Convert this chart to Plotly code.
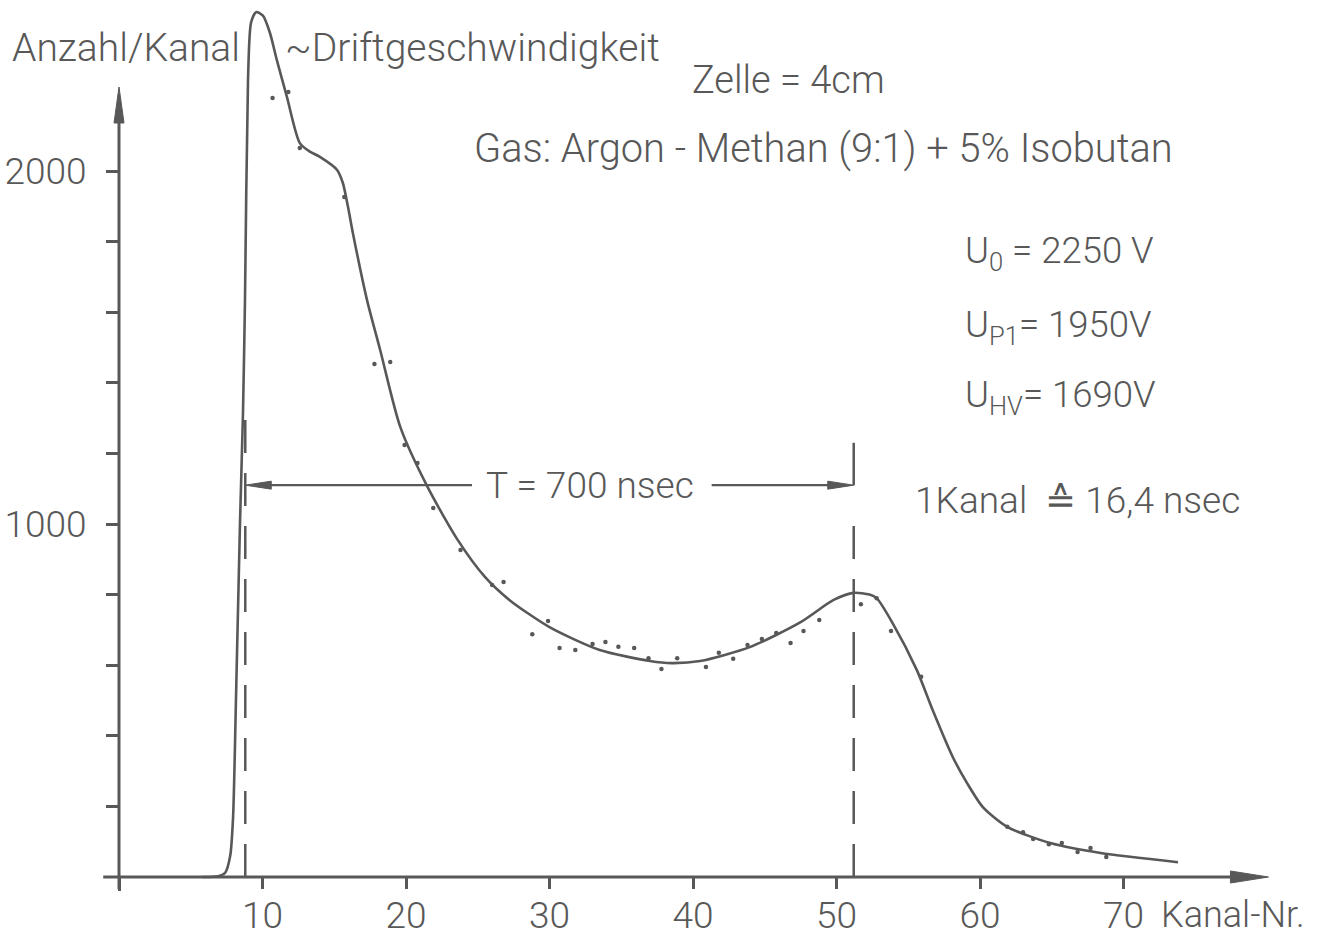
import plotly.graph_objects as go

# ---- canvas geometry -------------------------------------------------------
W, H = 1325, 942
X0_PX, Y0_PX = 119, 877        # pixel position of the origin (channel 0, count 0)
PX_PER_CH = 14.35              # horizontal pixels per channel
PX_PER_COUNT = 0.353           # vertical pixels per count

INK = "#585858"
FONT = "Roboto, Liberation Sans, Arial, sans-serif"

# ---- data ------------------------------------------------------------------
# fitted drift-time spectrum: channel number vs. counts per channel
curve_channel = [5.8, 6.9, 7.4, 7.75, 7.95, 8.15, 8.43, 8.64, 8.78, 8.99, 9.2, 9.55,
                 10.03, 10.52, 11.0, 11.7, 12.6, 13.3, 14.0, 15.2, 15.6, 15.96, 16.3,
                 17.28, 18.2, 19.6, 21.5, 23.6, 25.5, 27.2, 30.0, 33.5, 37.0, 38.5,
                 40.5, 44.0, 47.5, 49.8, 51.2, 52.3, 52.8, 53.9, 55.6, 56.7, 58.1,
                 59.1, 60.2, 61.9, 64.9, 68.4, 73.8]
curve_counts = [0, 2, 12, 60, 170, 500, 1000, 1314, 1635, 2258, 2420, 2450,
                2440, 2391, 2314, 2210, 2079, 2055, 2040, 2003, 1966, 1898, 1824,
                1635, 1493, 1275, 1105, 955, 850, 785, 708, 643, 612, 606,
                612, 652, 722, 785, 805, 800, 790, 720, 586, 473, 340,
                266, 198, 142, 96, 68, 42]

# measured counts per channel
meas_channel = [10.7, 11.8, 12.6, 15.7, 17.8, 18.9, 19.9, 20.8, 21.9, 23.8,
                26.0, 26.8, 28.8, 29.9, 30.7, 31.8, 33.0, 33.9, 34.8, 35.9,
                36.9, 37.8, 38.9, 40.9, 41.8, 42.8, 43.8, 44.8, 45.8, 46.8,
                47.7, 48.8, 51.7, 52.8, 53.8, 55.9, 61.9, 63.0, 63.7, 64.8,
                65.7, 66.8, 67.7, 68.8]
meas_counts = [2207, 2224, 2065, 1926, 1453, 1459, 1224, 1173, 1045, 926,
               827, 836, 688, 725, 649, 643, 660, 666, 652, 649,
               620, 589, 620, 595, 635, 618, 657, 674, 691, 663,
               697, 728, 773, 790, 697, 567, 142, 127, 108, 93,
               96, 71, 82, 57]

x_ticks = [10, 20, 30, 40, 50, 60, 70]
x_minor_ticks = [0]
y_ticks = [1000, 2000]
y_minor_ticks = [200, 400, 600, 800, 1200, 1400, 1600, 1800]

# drift time span: leading edge to far-side peak
T_START, T_END, T_LEVEL = 8.8, 51.2, 1110

# extent of the hand-drawn axes
X_AXIS_START, X_AXIS_END = -1.1, 80.1
Y_AXIS_START, Y_AXIS_END = -35, 2238

x_range = [-X0_PX / PX_PER_CH, (W - X0_PX) / PX_PER_CH]
y_range = [-(H - Y0_PX) / PX_PER_COUNT, Y0_PX / PX_PER_COUNT]


def arrowhead(tip_x, tip_y, direction, length_px, half_width_px):
    """Filled dart-shaped arrowhead, sized in pixels, placed in data units."""
    lx = length_px / PX_PER_CH
    ly = length_px / PX_PER_COUNT
    wx = half_width_px / PX_PER_CH
    wy = half_width_px / PX_PER_COUNT
    if direction == "right":
        xs = [tip_x, tip_x - lx, tip_x - lx, tip_x]
        ys = [tip_y, tip_y + wy, tip_y - wy, tip_y]
    elif direction == "left":
        xs = [tip_x, tip_x + lx, tip_x + lx, tip_x]
        ys = [tip_y, tip_y + wy, tip_y - wy, tip_y]
    else:  # up
        xs = [tip_x, tip_x - wx, tip_x + wx, tip_x]
        ys = [tip_y, tip_y - ly, tip_y - ly, tip_y]
    return go.Scatter(x=xs, y=ys, mode="lines", fill="toself", fillcolor=INK,
                      line=dict(color=INK, width=1), hoverinfo="skip",
                      showlegend=False)


fig = go.Figure()

# axes drawn as lines with arrowheads
fig.add_trace(go.Scatter(x=[X_AXIS_START, X_AXIS_END - 1.5], y=[0, 0], mode="lines",
                         line=dict(color=INK, width=3), showlegend=False))
fig.add_trace(go.Scatter(x=[0, 0], y=[Y_AXIS_START, Y_AXIS_END - 60], mode="lines",
                         line=dict(color=INK, width=3), showlegend=False))
fig.add_trace(arrowhead(X_AXIS_END, 0, "right", 38, 6))
fig.add_trace(arrowhead(0, Y_AXIS_END, "up", 36, 5))

# dashed markers at start and end of the drift time
fig.add_trace(go.Scatter(x=[T_START, T_START], y=[0, 1350], mode="lines",
                         line=dict(color=INK, width=2.5, dash="33px,20px"),
                         showlegend=False))
fig.add_trace(go.Scatter(x=[T_END, T_END], y=[0, 1050], mode="lines",
                         line=dict(color=INK, width=2.5, dash="33px,20px"),
                         showlegend=False))
fig.add_trace(go.Scatter(x=[T_END, T_END], y=[T_LEVEL, 1230], mode="lines",
                         line=dict(color=INK, width=2.5), showlegend=False))

# T = 700 nsec double arrow, broken by its label
fig.add_trace(go.Scatter(x=[T_START + 1, 24.6, None, 41.3, T_END - 1],
                         y=[T_LEVEL, T_LEVEL, None, T_LEVEL, T_LEVEL], mode="lines",
                         line=dict(color=INK, width=2.2), showlegend=False))
fig.add_trace(arrowhead(T_START, T_LEVEL, "left", 26, 4))
fig.add_trace(arrowhead(T_END, T_LEVEL, "right", 26, 4))

# fitted spectrum and measured points
fig.add_trace(go.Scatter(x=curve_channel, y=curve_counts, mode="lines",
                         line=dict(color=INK, width=2.6, shape="spline", smoothing=0.7),
                         showlegend=False))
fig.add_trace(go.Scatter(x=meas_channel, y=meas_counts, mode="markers",
                         marker=dict(color=INK, size=4.5), showlegend=False))


def label_font(size):
    return dict(family=FONT, size=size, color=INK, weight=300)


notes = [
    ("Anzahl/Kanal", -7.6, 2348, 39),
    ("~Driftgeschwindigkeit", 11.4, 2348, 39),
    ("Zelle = 4cm", 39.8, 2258, 38),
    ("Gas: Argon - Methan (9:1) + 5% Isobutan", 24.6, 2065, 39.8),
    ("U<sub>0</sub> = 2250 V", 58.8, 1768, 36.5),
    ("U<sub>P1</sub>= 1950V", 58.8, 1558, 36.5),
    ("U<sub>HV</sub>= 1690V", 58.8, 1360, 36.5),
    ("1Kanal  \u2259 16,4 nsec", 55.3, 1068, 37),
    ("Kanal-Nr.", 72.5, -108, 36),
]
for text, x, y, size in notes:
    fig.add_annotation(x=x, y=y, text=text, showarrow=False, xanchor="left",
                       yanchor="middle", font=label_font(size))
fig.add_annotation(x=32.8, y=T_LEVEL, text="T = 700 nsec", showarrow=False,
                   xanchor="center", yanchor="middle", font=label_font(37))

tick_style = dict(ticks="outside", tickwidth=2.5, tickcolor=INK)

fig.update_layout(
    width=W, height=H, template="none",
    margin=dict(l=0, r=0, t=0, b=0, pad=0),
    paper_bgcolor="white", plot_bgcolor="white",
    showlegend=False,
    xaxis=dict(range=x_range, domain=[0, 1], anchor="free", position=(H - Y0_PX) / H,
               showline=False, showgrid=False, zeroline=False, automargin=False,
               tickmode="array", tickvals=x_ticks, ticklen=11, **tick_style,
               minor=dict(tickmode="array", tickvals=x_minor_ticks, ticklen=13,
                          showgrid=False, **tick_style),
               tickfont=label_font(37), ticklabelstandoff=-5),
    yaxis=dict(range=y_range, domain=[0, 1], anchor="free", position=X0_PX / W,
               showline=False, showgrid=False, zeroline=False, automargin=False,
               tickmode="array", tickvals=y_ticks, ticklen=13, **tick_style,
               minor=dict(tickmode="array", tickvals=y_minor_ticks, ticklen=13,
                          showgrid=False, **tick_style),
               tickfont=label_font(37), ticklabelstandoff=12),
)

fig.write_html("out.html")
